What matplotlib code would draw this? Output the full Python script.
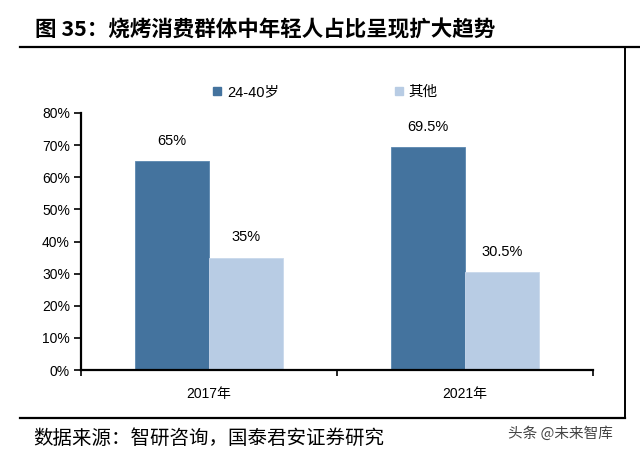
import numpy as np
import matplotlib.pyplot as plt
from matplotlib.lines import Line2D
from matplotlib.ticker import FixedLocator, PercentFormatter

plt.rcParams['font.family'] = ['Liberation Sans', 'Noto Sans CJK SC', 'DejaVu Sans']

# data
years = ["2017年", "2021年"]
young = [65, 69.5]      # 24-40岁
others = [35, 30.5]     # 其他
young_labels = ["65%", "69.5%"]
other_labels = ["35%", "30.5%"]
series_names = ["24-40岁", "其他"]

c_dark = "#44739E"
c_light = "#B8CCE4"

fig = plt.figure(figsize=(6.4, 4.59), dpi=100)
ax = fig.add_axes([81 / 640, 1 - 370 / 459, 512 / 640, 257 / 459])

x = np.arange(len(years))
w = 0.29
b1 = ax.bar(x - w / 2, young, w, color=c_dark, edgecolor="#5B87B0", linewidth=0.6)
b2 = ax.bar(x + w / 2, others, w, color=c_light, edgecolor="#C9D8EC", linewidth=0.6)

for bars, labels in ((b1, young_labels), (b2, other_labels)):
    for p, lab in zip(bars, labels):
        ax.annotate(lab, (p.get_x() + p.get_width() / 2, p.get_height()),
                    xytext=(0, 14.5), textcoords="offset points",
                    ha="center", va="center", fontsize=10.5)

ax.set_xlim(-0.5, 1.5)
ax.set_ylim(0, 80)
ax.yaxis.set_major_locator(FixedLocator(np.arange(0, 81, 10)))
ax.yaxis.set_major_formatter(PercentFormatter(decimals=0))
ax.tick_params(axis="y", direction="out", length=5, width=1.2, pad=3, labelsize=10)

ax.xaxis.set_major_locator(FixedLocator([-0.5, 0.5, 1.5]))
ax.xaxis.set_minor_locator(FixedLocator(x))
ax.set_xticklabels([], minor=False)
ax.set_xticklabels(years, minor=True)
ax.tick_params(axis="x", which="major", direction="out", length=4, width=1.2)
ax.tick_params(axis="x", which="minor", length=0, pad=12, labelsize=10)

for s in ("top", "right"):
    ax.spines[s].set_visible(False)
for s in ("left", "bottom"):
    ax.spines[s].set_linewidth(1.6)

# legend
handles = [Line2D([], [], marker="s", ls="", markersize=6, color=c)
           for c in (c_dark, c_light)]
fig.legend(handles, series_names, loc="center left",
           bbox_to_anchor=(213 / 640, 1 - 92 / 459), ncol=2, frameon=False,
           fontsize=10.5, handlelength=0.6, handletextpad=0.35,
           columnspacing=7.9, borderpad=0, borderaxespad=0)

# frame lines and texts
fig.add_artist(Line2D([20 / 640, 1.0], [1 - 47 / 459] * 2, color="black", lw=1.6))
fig.add_artist(Line2D([20 / 640, 625 / 640], [1 - 418 / 459] * 2, color="black", lw=1.6))
fig.add_artist(Line2D([625 / 640] * 2, [1 - 47 / 459, 1 - 418 / 459], color="black", lw=1.4))

fig.text(35 / 640, 1 - 30 / 459, "图 35：烧烤消费群体中年轻人占比呈现扩大趋势",
         fontsize=15.5, fontweight="bold", va="center", ha="left",
         family=["Noto Sans CJK SC", "DejaVu Sans"])
fig.text(33 / 640, 1 - 438 / 459, "数据来源：智研咨询，国泰君安证券研究",
         fontsize=14, va="center", ha="left",
         family=["Noto Sans CJK SC", "DejaVu Sans"])
fig.text(508 / 640, 1 - 434 / 459, "头条 @未来智库", fontsize=10.5, color="#444444",
         va="center", ha="left", family=["Noto Sans CJK SC", "DejaVu Sans"])

fig.savefig("out.png", dpi=100)
